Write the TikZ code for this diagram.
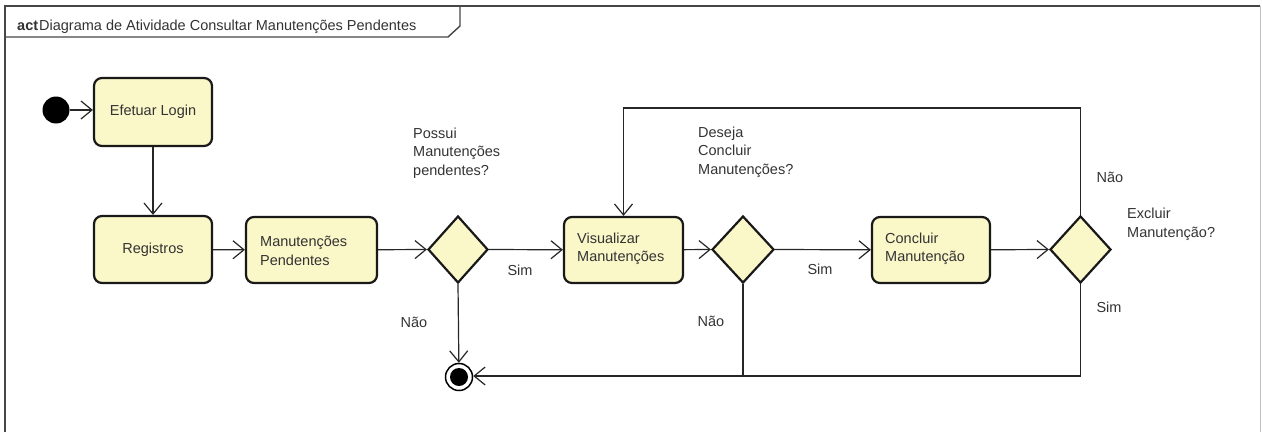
\documentclass[tikz,border=0pt]{standalone}
\usepackage{fontspec}
\setmainfont{Liberation Sans}
\usetikzlibrary{shapes.geometric,arrows.meta}
\definecolor{actfill}{RGB}{250,247,200}
\definecolor{frameline}{RGB}{70,70,70}
\begin{document}
\begin{tikzpicture}[x=1pt,y=-1pt,
  every node/.style={font=\fontsize{14.5}{18.5}\selectfont, text=black!80},
  action/.style={draw=black!90, line width=2.2pt, fill=actfill, rounded corners=8pt,
    inner sep=0pt},
  decision/.style={draw=black!90, line width=2.2pt, fill=actfill, diamond,
    inner sep=0pt},
  flow/.style={draw=black!85, line width=1.2pt,
    -{Straight Barb[length=11pt,width=18pt,line width=1.2pt]}},
  plain/.style={draw=black!85, line width=1.2pt},
  guard/.style={inner sep=0pt},
]
\useasboundingbox (0,0) rectangle (1263,432);

% frame and title tab
\draw[frameline, line width=1.6pt] (5,432) -- (5,6) -- (1260,6);
\draw[black!25, line width=1pt] (1260,6) -- (1260,432);
\draw[frameline, line width=1.4pt] (5,37) -- (448,37) -- (460,26) -- (460,6);
\node[anchor=base west, inner sep=0pt] (title) at (17,30)
  {\textbf{act}\kern1pt Diagrama de Atividade Consultar Manutenções Pendentes};

% initial and final nodes
\node[circle, fill=black, minimum size=27pt, inner sep=0pt] (init) at (56,110) {};
\node[circle, draw=black, line width=1.5pt, fill=white, minimum size=27pt,
  inner sep=0pt] (final) at (459,377) {};
\fill[black] (final.center) circle (9pt);

% actions
\node[action, minimum width=118pt, minimum height=68pt] (login) at (153,112) {Efetuar Login};
\node[action, minimum width=118pt, minimum height=67pt] (reg) at (153,249.5) {Registros};
\node[action, minimum width=131pt, minimum height=66pt] (pend) at (311.5,250) {};
\node[anchor=west, align=left, inner sep=0pt] (pendtxt) at (260,251) {Manutenções\\Pendentes};
\node[action, minimum width=119pt, minimum height=66pt] (vis) at (623.5,250) {};
\node[anchor=west, align=left, inner sep=0pt] (vistxt) at (577,249) {Visualizar\\Manutenções};
\node[action, minimum width=118pt, minimum height=66pt] (conc) at (931,250) {};
\node[anchor=west, align=left, inner sep=0pt] (conctxt) at (885,249) {Concluir\\Manutenção};

% decisions
\node[decision, minimum width=60pt, minimum height=67pt] (d1) at (458,249.5) {};
\node[decision, minimum width=62pt, minimum height=67pt] (d2) at (743,249.5) {};
\node[decision, minimum width=61pt, minimum height=67pt] (d3) at (1080.5,249.5) {};

% decision questions
\node[anchor=base west, align=left, inner sep=0pt] (q1) at (413,175)
  {Possui\\Manutenções\\pendentes?};
\node[anchor=base west, align=left, inner sep=0pt] (q2) at (698,174)
  {Deseja\\Concluir\\Manutenções?};
\node[anchor=base west, align=left, inner sep=0pt] (q3) at (1127,237)
  {Excluir\\Manutenção?};

% corner points of routed flows
\coordinate (loopR) at (1080.5,108);
\coordinate (loopL) at (623.5,108);
\coordinate (botR) at (1080.5,376);
\coordinate (botM) at (743,376);

% flows
\draw[flow] (init) -- (login.west |- init);
\draw[flow] (login) -- (reg);
\draw[flow] (reg) -- (pend);
\draw[flow] (pend) -- (d1.west);
\draw[flow] (d1.east) -- (vis);
\draw[flow] (d1.south) -- (final);
\draw[flow] (vis) -- (d2.west);
\draw[flow] (d2.east) -- (conc);
\draw[flow] (conc) -- (d3.west);
\draw[flow] (d3.north) -- (loopR) -- (loopL) -- (vis.north);
\draw[flow] (d3.south) -- (botR) -- (final.east |- botR);
\draw[plain] (d2.south) -- (botM);

% guards
\node[guard] (g1s) at (520,270) {Sim};
\node[guard] (g1n) at (414,322) {Não};
\node[guard] (g2s) at (820,269) {Sim};
\node[guard] (g2n) at (711,321) {Não};
\node[guard] (g3n) at (1110,177) {Não};
\node[guard] (g3s) at (1109,307) {Sim};
\end{tikzpicture}
\end{document}
